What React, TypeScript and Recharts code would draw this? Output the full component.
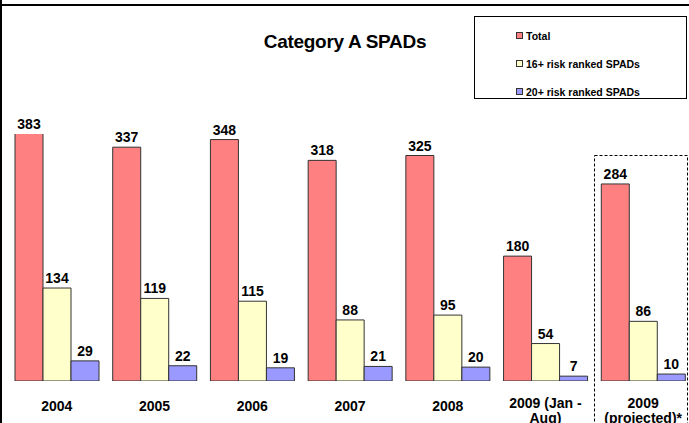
import React from "react";
import { BarChart, Bar, XAxis, YAxis, LabelList } from "recharts";

const categories = ["2004", "2005", "2006", "2007", "2008", "2009 (Jan - Aug)", "2009 (projected)*"];
const tickLines: string[][] = [
  ["2004"],
  ["2005"],
  ["2006"],
  ["2007"],
  ["2008"],
  ["2009 (Jan -", "Aug)"],
  ["2009", "(projected)*"],
];
const totalValues = [383, 337, 348, 318, 325, 180, 284];
const risk16Values = [134, 119, 115, 88, 95, 54, 86];
const risk20Values = [29, 22, 19, 21, 20, 7, 10];

const seriesNames = ["Total", "16+ risk ranked SPADs", "20+ risk ranked SPADs"];
const seriesColors = ["#FF8080", "#FFFFCC", "#9999FF"];
const seriesKeys = ["total", "r16", "r20"];

const data = categories.map((c, i) => ({
  name: c,
  total: totalValues[i],
  r16: risk16Values[i],
  r20: risk20Values[i],
}));

const CHART_W = 692;
const CHART_H = 423;
const PLOT_TOP = 134;
const AXIS_H = 42;
const FONT = "'Liberation Sans', Arial, sans-serif";

const ValueLabel = (props: any) => {
  const { x, y, width, value } = props;
  const top = Math.max(Number(y), PLOT_TOP);
  return (
    <text
      x={Number(x) + Number(width) / 2}
      y={top - 5}
      textAnchor="middle"
      fontFamily={FONT}
      fontWeight="bold"
      fontSize={14}
      fill="#000"
    >
      {value}
    </text>
  );
};

const CategoryTick = (props: any) => {
  const { x, y, index } = props;
  const lines = tickLines[index] || [String(props.payload?.value ?? "")];
  const first = lines.length > 1 ? 27 : 30;
  return (
    <text
      x={x}
      y={y}
      textAnchor="middle"
      fontFamily={FONT}
      fontWeight="bold"
      fontSize={14}
      fill="#000"
    >
      {lines.map((l, i) => (
        <tspan key={i} x={x} y={Number(y) + first + i * 15}>
          {l}
        </tspan>
      ))}
    </text>
  );
};

export default function App() {
  return (
    <div
      style={{
        position: "absolute",
        left: 0,
        top: 0,
        width: 689,
        height: 423,
        overflow: "hidden",
        background: "#fff",
      }}
    >
      <div style={{ position: "absolute", left: 0, top: 0 }}>
        <BarChart
          width={CHART_W}
          height={CHART_H}
          data={data}
          margin={{ top: PLOT_TOP, right: 0, bottom: 0, left: 8 }}
          barCategoryGap={7}
          barGap={0}
        >
          <XAxis
            dataKey="name"
            axisLine={false}
            tickLine={false}
            tickSize={0}
            tickMargin={0}
            height={AXIS_H}
            interval={0}
            tick={<CategoryTick />}
          />
          <YAxis hide domain={[0, 356]} allowDataOverflow />
          {seriesKeys.map((k, i) => (
            <Bar
              key={k}
              dataKey={k}
              name={seriesNames[i]}
              fill={seriesColors[i]}
              stroke="#333"
              strokeWidth={1}
              isAnimationActive={false}
            >
              <LabelList dataKey={k} content={<ValueLabel />} />
            </Bar>
          ))}
        </BarChart>
      </div>
      <svg
        width={689}
        height={423}
        style={{ position: "absolute", left: 0, top: 0, pointerEvents: "none" }}
      >
        <rect x={0} y={0} width={2} height={423} fill="#000" />
        <rect x={0} y={4} width={689} height={2} fill="#000" />
        <text
          x={345}
          y={48}
          textAnchor="middle"
          fontFamily={FONT}
          fontWeight="bold"
          fontSize={19}
          letterSpacing={-0.3}
          fill="#000"
        >
          Category A SPADs
        </text>
        <rect
          x={594.5}
          y={155.5}
          width={93}
          height={280}
          fill="none"
          stroke="#000"
          strokeWidth={1}
          strokeDasharray="3 2"
        />
        <rect x={474.5} y={16.5} width={212} height={82} fill="#fff" stroke="#000" strokeWidth={1} />
        {seriesNames.map((n, i) => (
          <g key={n}>
            <rect
              x={516.5}
              y={32.5 + i * 28}
              width={6}
              height={6}
              fill={seriesColors[i]}
              stroke="#333"
              strokeWidth={1}
            />
            <text
              x={526}
              y={39.5 + i * 28}
              fontFamily={FONT}
              fontWeight="bold"
              fontSize={10.5}
              fill="#000"
            >
              {n}
            </text>
          </g>
        ))}
      </svg>
    </div>
  );
}
